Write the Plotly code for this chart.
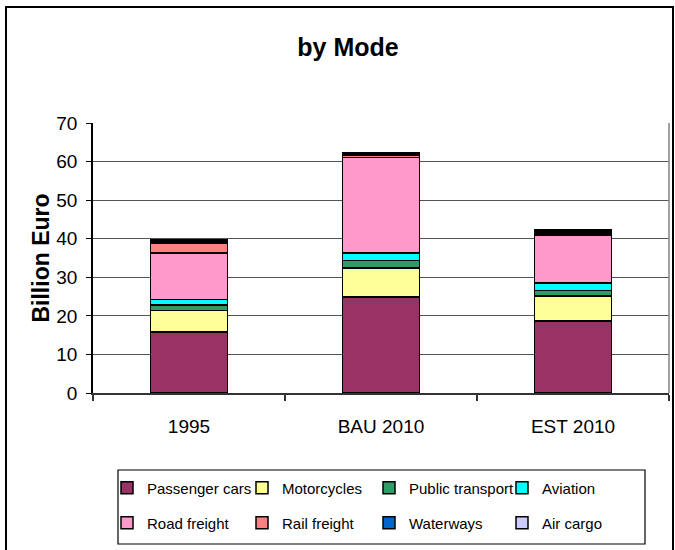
import plotly.graph_objects as go

categories = ["1995", "BAU 2010", "EST 2010"]
series_names = ["Passenger cars", "Motorcycles", "Public transport", "Aviation",
                "Road freight", "Rail freight", "Waterways", "Air cargo"]
passenger_cars = [15.8, 24.9, 18.7]
motorcycles = [5.6, 7.5, 6.4]
public_transport = [1.4, 2.0, 1.5]
aviation = [1.5, 1.9, 1.9]
road_freight = [12.0, 24.7, 12.5]
rail_freight = [2.6, 0.6, 0.5]
waterways = [0.4, 0.3, 0.4]
air_cargo = [0.4, 0.3, 0.3]
series_values = [passenger_cars, motorcycles, public_transport, aviation,
                 road_freight, rail_freight, waterways, air_cargo]
colors = ["#993366", "#FFFF99", "#339966", "#00FFFF",
          "#FF99CC", "#FF8080", "#0066CC", "#CCCCFF"]
y_ticks = [0, 10, 20, 30, 40, 50, 60, 70]

W, H = 675, 550
L, R, T, B = 93, 6, 123, 157
PW, PH = W - L - R, H - T - B

def px(x):
    return (x - L) / PW

def py(y):
    return (T + PH - y) / PH

FONT = "Liberation Sans, Arial, sans-serif"
legend_col_widths = [90, 82, 88, 80]

fig = go.Figure()
for i, (name, vals, col) in enumerate(zip(series_names, series_values, colors)):
    fig.add_trace(go.Bar(
        x=categories, y=vals, name=name,
        marker=dict(color=col, line=dict(color="black", width=1.5)),
        legend="legend" if i < 4 else "legend2",
        legendwidth=legend_col_widths[i % 4],
    ))

fig.update_layout(
    width=W, height=H,
    barmode="stack", bargap=0.6,
    margin=dict(l=L, r=R, t=T, b=B, autoexpand=False),
    paper_bgcolor="white", plot_bgcolor="white",
    font=dict(family=FONT, color="black", size=19),
    title=dict(text="<b>by Mode</b>", x=348 / W, xanchor="center", xref="container",
               y=1 - 47 / H, yanchor="middle", yref="container",
               font=dict(family=FONT, size=25, color="black")),
    xaxis=dict(
        type="category", showline=True, linecolor="#333", linewidth=2,
        ticks="outside", tickson="boundaries", ticklen=6, tickcolor="#333", tickwidth=1.5,
        tickfont=dict(family=FONT, size=19), ticklabelstandoff=15,
        showgrid=False,
    ),
    yaxis=dict(
        range=[0, 70], tickvals=y_ticks, showline=True, linecolor="black", linewidth=1.5,
        ticks="outside", ticklen=5, tickcolor="black",
        tickfont=dict(family=FONT, size=19), ticklabelstandoff=5,
        showgrid=True, gridcolor="#555", gridwidth=1, zeroline=False,
        title=dict(text="<b>Billion Euro</b>", standoff=0,
                   font=dict(family=FONT, size=23)),
    ),
    legend=dict(orientation="h", x=px(107), xanchor="left", y=py(488), yanchor="middle",
                entrywidthmode="pixels", borderwidth=0, bgcolor="rgba(0,0,0,0)",
                font=dict(family=FONT, size=15), traceorder="normal"),
    legend2=dict(orientation="h", x=px(107), xanchor="left", y=py(523), yanchor="middle",
                 entrywidthmode="pixels", borderwidth=0, bgcolor="rgba(0,0,0,0)",
                 font=dict(family=FONT, size=15), traceorder="normal"),
    shapes=[
        dict(type="rect", xref="paper", yref="paper", x0=px(6), x1=px(673), y0=py(565), y1=py(7),
             line=dict(color="black", width=2), fillcolor="rgba(0,0,0,0)", layer="below"),
        dict(type="line", xref="paper", yref="paper", x0=1, x1=1, y0=0, y1=1,
             line=dict(color="#808080", width=1.5)),
        dict(type="rect", xref="paper", yref="paper", x0=px(118), x1=px(645), y0=py(544), y1=py(470),
             line=dict(color="black", width=1.2), fillcolor="rgba(0,0,0,0)"),
    ],
)

fig.write_html("out.html", config={"displayModeBar": False},
               post_script="document.body.style.margin='0';")
